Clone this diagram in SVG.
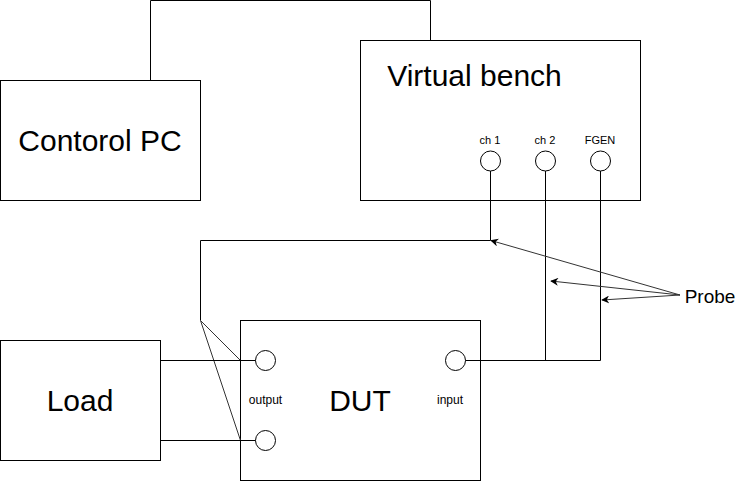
<svg xmlns="http://www.w3.org/2000/svg" width="741" height="481" viewBox="0 0 741 481">
<style>
.box{fill:#fff;stroke:#000;stroke-width:1}
.port{fill:#fff;stroke:#000;stroke-width:1}
.w{fill:none;stroke:#000;stroke-width:1}
.d{fill:none;stroke:#333;stroke-width:1}
text{font-family:"Liberation Sans",Arial,sans-serif;fill:#000;text-anchor:middle}
.big{font-size:30px}
.sm{font-size:11px}
.md{font-size:12px}
</style>
<defs>
<marker id="ah" viewBox="0 0 10 10" refX="9" refY="5" markerWidth="8" markerHeight="8" markerUnits="userSpaceOnUse" orient="auto">
<path d="M0,0 L10,5 L0,10 L3,5 Z" fill="#000"/>
</marker>
</defs>
<g id="control-pc">
<rect class="box" x="0.5" y="80.5" width="200" height="120"/>
<text class="big" x="100" y="151">Contorol PC</text>
</g>
<g id="virtual-bench">
<rect class="box" x="360.5" y="40.5" width="280" height="160"/>
<text class="big" x="474.5" y="86">Virtual bench</text>
<circle class="port" cx="490.5" cy="161" r="10"/>
<circle class="port" cx="545.5" cy="161" r="10"/>
<circle class="port" cx="600.5" cy="161" r="10"/>
<text class="sm" x="490" y="144">ch 1</text>
<text class="sm" x="545" y="144">ch 2</text>
<text class="sm" x="600" y="144">FGEN</text>
</g>
<g id="dut">
<rect class="box" x="240.5" y="320.5" width="240" height="160"/>
<text class="big" x="360" y="411">DUT</text>
<circle class="port" cx="265.5" cy="360.5" r="10"/>
<circle class="port" cx="265.5" cy="440.5" r="10"/>
<circle class="port" cx="455.5" cy="360.5" r="10"/>
<text class="md" x="265.5" y="404">output</text>
<text class="md" x="450" y="404">input</text>
</g>
<g id="load">
<rect class="box" x="0.5" y="340.5" width="160" height="120"/>
<text class="big" x="80" y="411">Load</text>
</g>
<g id="probe">
<text x="710" y="303" style="font-size:19px">Probe</text>
</g>
<g id="connectors">
<path class="w" d="M150.5,80.5 V0.5 H430.5 V40.5"/>
<path class="w" d="M490.5,171 V240.5 H200.5 V320.5"/>
<path class="d" d="M200.5,320.5 L240.5,360.5"/>
<path class="d" d="M200.5,320.5 L240.5,440.5"/>
<path class="w" d="M545.5,171 V360.5"/>
<path class="w" d="M600.5,171 V360.5 H465.5"/>
<path class="w" d="M160.5,360.5 H255.5"/>
<path class="w" d="M160.5,440.5 H255.5"/>
<path class="d" d="M680,295 L491,240.5" marker-end="url(#ah)"/>
<path class="d" d="M680,295 L551,281" marker-end="url(#ah)"/>
<path class="d" d="M680,295 L602,300" marker-end="url(#ah)"/>
</g>
</svg>
